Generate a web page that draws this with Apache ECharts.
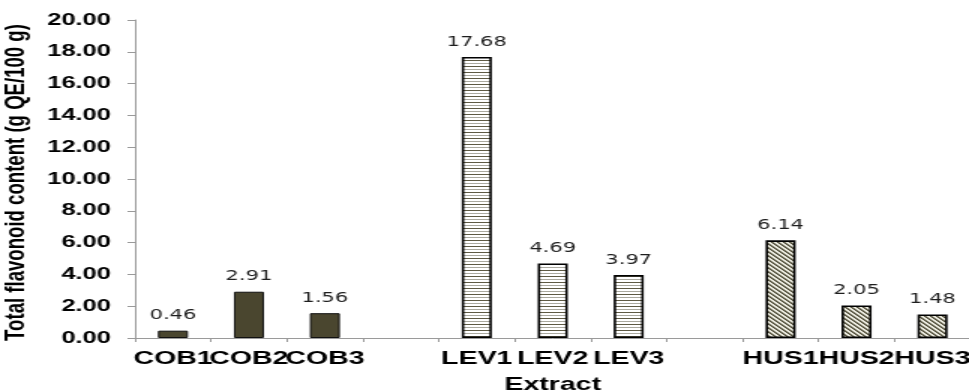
<!DOCTYPE html>
<html>
<head>
<meta charset="utf-8">
<script src="https://cdn.jsdelivr.net/npm/echarts@6/dist/echarts.min.js"></script>
<style>
  html, body { margin: 0; padding: 0; background: #fff; overflow: hidden; }
  /* the chart is laid out narrow and widened to the page */
  #chart { width: 646px; height: 390px; transform: scaleX(1.5); transform-origin: 0 0; }
</style>
</head>
<body>
<div id="chart"></div>
<script>
// Extract names, with blank slots separating the three groups
const categories = ['COB1', 'COB2', 'COB3', '', 'LEV1', 'LEV2', 'LEV3', '', 'HUS1', 'HUS2', 'HUS3'];
const cobNames = ['COB1', 'COB2', 'COB3'];
const levNames = ['LEV1', 'LEV2', 'LEV3'];
const husNames = ['HUS1', 'HUS2', 'HUS3'];
// Total flavonoid content, g QE/100 g
const cobValues = [0.46, 2.91, 1.56];
const levValues = [17.68, 4.69, 3.97];
const husValues = [6.14, 2.05, 1.48];
// Value axis ticks
const yMin = 0, yMax = 20, yStep = 2;

function placeOnAxis(names, values) {
  return categories.map(c => {
    const i = names.indexOf(c);
    return i >= 0 ? values[i] : null;
  });
}

// Horizontal stripe fill
function stripePattern() {
  const c = document.createElement('canvas');
  c.width = 1; c.height = 6;
  const g = c.getContext('2d');
  g.fillStyle = '#ffffff'; g.fillRect(0, 0, 1, 6);
  g.fillStyle = '#5e5a44'; g.fillRect(0, 0, 1, 1);
  g.fillStyle = '#aaa99f'; g.fillRect(0, 3, 1, 1);
  return c;
}
// Diagonal hatch fill
function hatchPattern() {
  const c = document.createElement('canvas');
  c.width = 4; c.height = 4;
  const g = c.getContext('2d');
  g.fillStyle = '#ecebe0'; g.fillRect(0, 0, 4, 4);
  for (let i = 0; i < 4; i++) {
    g.fillStyle = '#4f4c38'; g.fillRect(i, i, 1, 1);
    g.fillStyle = '#7d7b68'; g.fillRect((i + 1) % 4, i, 1, 1);
  }
  return c;
}

const valueLabel = {
  show: true,
  position: 'top',
  distance: 8,
  fontFamily: 'DejaVu Sans',
  fontSize: 14,
  color: '#1e1e1e',
  formatter: p => p.value.toFixed(2)
};

const chart = echarts.init(document.getElementById('chart'));
chart.setOption({
  animation: false,
  backgroundColor: '#ffffff',
  grid: { left: 90, right: -1, top: 20, bottom: 52, outerBoundsMode: 'none' },
  xAxis: {
    type: 'category',
    data: categories,
    name: 'Extract',
    nameLocation: 'middle',
    nameGap: 37,
    nameTextStyle: { fontFamily: 'Liberation Sans', fontWeight: 'bold', fontSize: 19, color: '#000' },
    axisLine: { lineStyle: { color: '#9a9a9a', width: 1 } },
    axisTick: { show: true, length: 4, lineStyle: { color: '#9a9a9a' } },
    axisLabel: { interval: 0, margin: 11, fontFamily: 'Liberation Sans', fontWeight: 'bold', fontSize: 19, color: '#000' }
  },
  yAxis: {
    type: 'value',
    min: yMin, max: yMax, interval: yStep,
    name: 'Total flavonoid content (g QE/100 g)',
    nameLocation: 'middle',
    nameRotate: 90,
    nameGap: 64,
    nameTextStyle: { fontFamily: 'Liberation Sans', fontWeight: 'bold', fontSize: 18.6, color: '#000', padding: [0, 7, 0, 0] },
    splitLine: { show: false },
    axisLine: { show: true, lineStyle: { color: '#9a9a9a', width: 1 } },
    axisTick: { show: true, length: 5, lineStyle: { color: '#9a9a9a' } },
    axisLabel: { margin: 16, fontFamily: 'Liberation Sans', fontWeight: 'bold', fontSize: 17, color: '#000',
                 formatter: v => v.toFixed(2) }
  },
  series: [
    {
      type: 'bar', barWidth: 20, barGap: '-100%',
      data: placeOnAxis(cobNames, cobValues),
      itemStyle: { color: '#4a462f', borderColor: '#111', borderWidth: 1 },
      label: valueLabel
    },
    {
      type: 'bar', barWidth: 20, barGap: '-100%',
      data: placeOnAxis(levNames, levValues),
      itemStyle: { color: { image: stripePattern(), repeat: 'repeat' }, borderColor: '#000', borderWidth: 1.6 },
      label: valueLabel
    },
    {
      type: 'bar', barWidth: 20, barGap: '-100%',
      data: placeOnAxis(husNames, husValues),
      itemStyle: { color: { image: hatchPattern(), repeat: 'repeat' }, borderColor: '#000', borderWidth: 1.6 },
      label: valueLabel
    }
  ]
});
</script>
</body>
</html>
